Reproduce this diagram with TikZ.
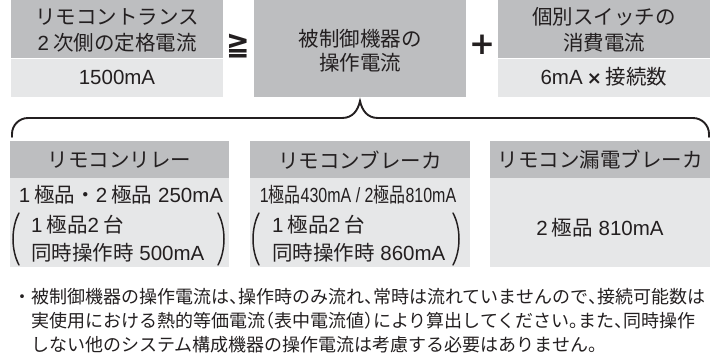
\documentclass[tikz,border=0pt]{standalone}
\usepackage{fontspec}
\setmainfont{Liberation Sans}
\newfontfamily\jp{Noto Sans CJK JP}
\newfontfamily\sym{DejaVu Sans}
\newcommand\J[1]{{\jp #1}}
\newcommand\gp{\hspace{0.2em}}
\newcommand\hc{\makebox[0.5em][l]{、}}
\newcommand\hp{\makebox[0.5em][l]{。}}
\newcommand\hl{\makebox[0.5em][r]{（}}
\newcommand\hr{\makebox[0.5em][l]{）}}
\definecolor{dk}{HTML}{BDBEC0}
\definecolor{lt}{HTML}{E6E7E8}
\definecolor{ink}{HTML}{231F20}
\tikzset{
  dkbox/.style={rectangle, fill=dk, draw=none, inner sep=0pt, anchor=north west},
  ltbox/.style={rectangle, fill=lt, draw=none, inner sep=0pt, anchor=north west},
  txt/.style={inner sep=0pt, text=ink, font=\fontsize{20.5}{24}\selectfont},
  note/.style={inner sep=0pt, text=ink, anchor=west, font=\jp\fontsize{18}{20}\selectfont},
  brace/.style={line width=1.9pt, draw=ink, line cap=round},
  paren/.style={line width=1.5pt, draw=ink, line cap=round}
}
\begin{document}
\begin{tikzpicture}[x=1pt,y=-1pt]
\useasboundingbox (0,0) rectangle (715,360);
% top row
\node[dkbox, minimum width=212, minimum height=58] (A) at (11,0) {};
\node[ltbox, minimum width=212, minimum height=38] (Ab) at (11,59) {};
\node[txt] (At1) at (117,17) {\J{リモコントランス}};
\node[txt] (At2) at (117,43) {2\gp\J{次側の定格電流}};
\node[txt] (At3) at (117,77) {1500mA};
\node[txt, font=\sym\bfseries\fontsize{33}{33}\selectfont] (geq) at (238.5,46) {\scalebox{0.85}[1]{≧}};
\node[dkbox, minimum width=212, minimum height=97] (B) at (254,0) {};
\node[txt] (Bt1) at (360,39) {\J{被制御機器の}};
\node[txt] (Bt2) at (360,63) {\J{操作電流}};
\node[txt, font=\sym\bfseries\fontsize{31}{31}\selectfont] (plus) at (482,45) {+};
\node[dkbox, minimum width=212, minimum height=58] (C) at (498,0) {};
\node[ltbox, minimum width=212, minimum height=38] (Cb) at (498,59) {};
\node[txt] (Ct1) at (604,17) {\J{個別スイッチの}};
\node[txt] (Ct2) at (604,43) {\J{消費電流}};
\node[txt] (Ct3) at (604,77) {6mA\gp{\sym\bfseries\fontsize{18}{18}\selectfont ×}\gp\J{接続数}};
% brace
\coordinate (bl) at (12,137);
\coordinate (br) at (709,137);
\draw[brace, rounded corners=16] (bl) -- (12,118) -- (200,118);
\draw[brace] (200,118) -- (342,118) .. controls (353,118) and (358,110) .. (360,101)
  .. controls (362,110) and (367,118) .. (378,118) -- (520,118);
\draw[brace, rounded corners=16] (520,118) -- (709,118) -- (br);
% bottom row
\node[dkbox, minimum width=219, minimum height=37] (D) at (10,141) {};
\node[ltbox, minimum width=219, minimum height=89] (Db) at (10,178) {};
\node[txt] (Dt1) at (119.5,160) {\J{リモコンリレー}};
\node[txt] (Dt2) at (121,195) {1\gp\J{極品・}2\gp\J{極品} 250mA};
\node[txt, anchor=west] (Dt3) at (31,225) {1\gp\J{極品}2\gp\J{台}};
\node[txt, anchor=west] (Dt4) at (31,253) {\J{同時操作時} 500mA};
\draw[paren] (19,213) .. controls (11,228) and (11,250) .. (19,265);
\draw[paren] (218,213) .. controls (226,228) and (226,250) .. (218,265);
\node[dkbox, minimum width=220, minimum height=37] (E) at (250,141) {};
\node[ltbox, minimum width=220, minimum height=89] (Eb) at (250,178) {};
\node[txt] (Et1) at (360,160) {\J{リモコンブレーカ}};
\node[txt] (Et2) at (358,195) {\scalebox{0.78}[1]{1\J{極品}430mA / 2\J{極品}810mA}};
\node[txt, anchor=west] (Et3) at (272,225) {1\gp\J{極品}2\gp\J{台}};
\node[txt, anchor=west] (Et4) at (272,253) {\J{同時操作時} 860mA};
\draw[paren] (259,213) .. controls (251,228) and (251,250) .. (259,265);
\draw[paren] (453,213) .. controls (461,228) and (461,250) .. (453,265);
\node[dkbox, minimum width=220, minimum height=37] (F) at (490,141) {};
\node[ltbox, minimum width=220, minimum height=89] (Fb) at (490,178) {};
\node[txt] (Ft1) at (600,160) {\J{リモコン漏電ブレーカ}};
\node[txt] (Ft2) at (600,228) {2\gp\J{極品} 810mA};
% note
\node[note] (n1) at (13,297) {・被制御機器の操作電流は\hc 操作時のみ流れ\hc 常時は流れていませんので\hc 接続可能数は};
\node[note] (n2) at (31,321) {実使用における熱的等価電流\hl 表中電流値\hr により算出してください\hp また\hc 同時操作};
\node[note] (n3) at (31,345) {しない他のシステム構成機器の操作電流は考慮する必要はありません。};
\end{tikzpicture}
\end{document}
